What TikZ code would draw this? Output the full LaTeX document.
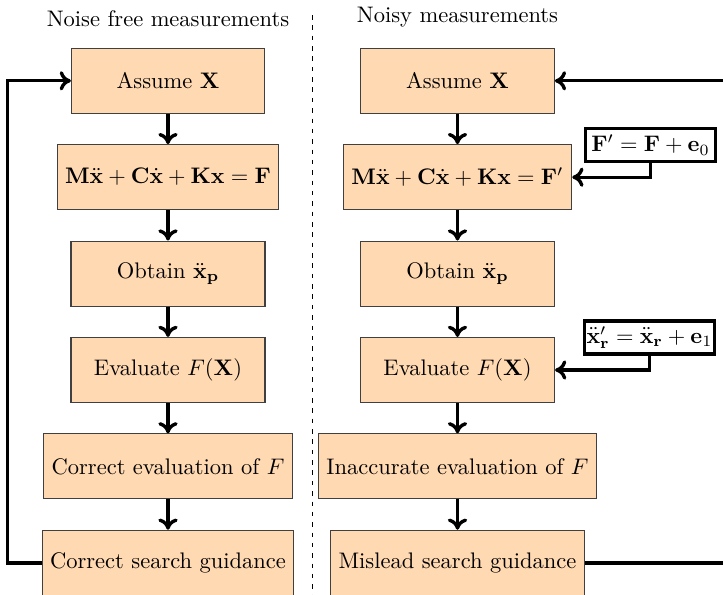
\documentclass[tikz,border=0pt]{standalone}
\usetikzlibrary{arrows.meta}
\def\u{0.4444pt}
\tikzset{
  stage/.style={draw=black!75, line width=0.5pt, fill=orange!30, inner sep=2pt,
    minimum height=65*\u, anchor=center},
  noisebox/.style={draw=black, line width=1.5pt, fill=white, inner sep=1pt,
    minimum width=130*\u, minimum height=33*\u},
  flow/.style={line width=1.5pt, -{To[length=5pt,width=8.6pt]}},
  title/.style={anchor=base, inner sep=0pt},
}
\begin{document}
\begin{tikzpicture}[x=\u, y=-\u]
\path[use as bounding box, clip] (0,0) rectangle (723,594);

% column headings
\node[title] (tl) at (168,26) {Noise free measurements};
\node[title] (tr) at (457.5,22.7) {Noisy measurements};

% separator
\coordinate (sepTop) at (312.7,15);
\coordinate (sepBot) at (312.7,600);
\draw[line width=0.45pt, dash pattern=on 2pt off 2.6pt] (sepTop) -- (sepBot);

% noise-free chain
\node[stage, minimum width=193*\u] (LA) at (168,80.8) {Assume $\mathbf{X}$};
\node[stage, minimum width=221.4*\u] (LM) at (168,177.2)
  {$\mathbf{M}\ddot{\mathbf{x}}+\mathbf{C}\dot{\mathbf{x}}+\mathbf{K}\mathbf{x}=\mathbf{F}$};
\node[stage, minimum width=194*\u] (LO) at (168,273.6) {Obtain $\ddot{\mathbf{x}}_{\mathbf{p}}$};
\node[stage, minimum width=194*\u] (LE) at (168,370) {Evaluate $F(\mathbf{X})$};
\node[stage, minimum width=249*\u] (LC) at (168,466.4) {Correct evaluation of $F$};
\node[stage, minimum width=251*\u] (LS) at (168,562.8) {Correct search guidance};

% noisy chain
\node[stage, minimum width=193.6*\u] (RA) at (457.5,80.8) {Assume $\mathbf{X}$};
\node[stage, minimum width=228.4*\u] (RM) at (457.5,177.2)
  {$\mathbf{M}\ddot{\mathbf{x}}+\mathbf{C}\dot{\mathbf{x}}+\mathbf{K}\mathbf{x}=\mathbf{F}'$};
\node[stage, minimum width=194*\u] (RO) at (457.5,273.6) {Obtain $\ddot{\mathbf{x}}_{\mathbf{p}}$};
\node[stage, minimum width=194*\u] (RE) at (457.5,370) {Evaluate $F(\mathbf{X})$};
\node[stage, minimum width=278*\u] (RI) at (457.5,466.4) {Inaccurate evaluation of $F$};
\node[stage, minimum width=254*\u] (RS) at (457.5,562.8) {Mislead search guidance};

% noise terms
\node[noisebox] (n0) at (650.5,145) {$\mathbf{F}'=\mathbf{F}+\mathbf{e}_0$};
\node[noisebox] (n1) at (649.5,337.5) {$\ddot{\mathbf{x}}'_{\mathbf{r}}=\ddot{\mathbf{x}}_{\mathbf{r}}+\mathbf{e}_1$};

% vertical flow
\foreach \a/\b in {LA/LM, LM/LO, LO/LE, LE/LC, LC/LS, RA/RM, RM/RO, RO/RE, RE/RI, RI/RS}
  \draw[flow] (\a) -- (\b);

% noise injection
\draw[flow] (n0.south) |- (RM.east);
\draw[flow] (n1.south) |- (RE.east);

% feedback loops
\coordinate (loopL) at (7.3,562.8);
\coordinate (loopR) at (740,562.8);
\draw[flow] (LS.west) -- (loopL) |- (LA.west);
\draw[flow] (RS.east) -- (loopR) |- (RA.east);
\end{tikzpicture}
\end{document}
